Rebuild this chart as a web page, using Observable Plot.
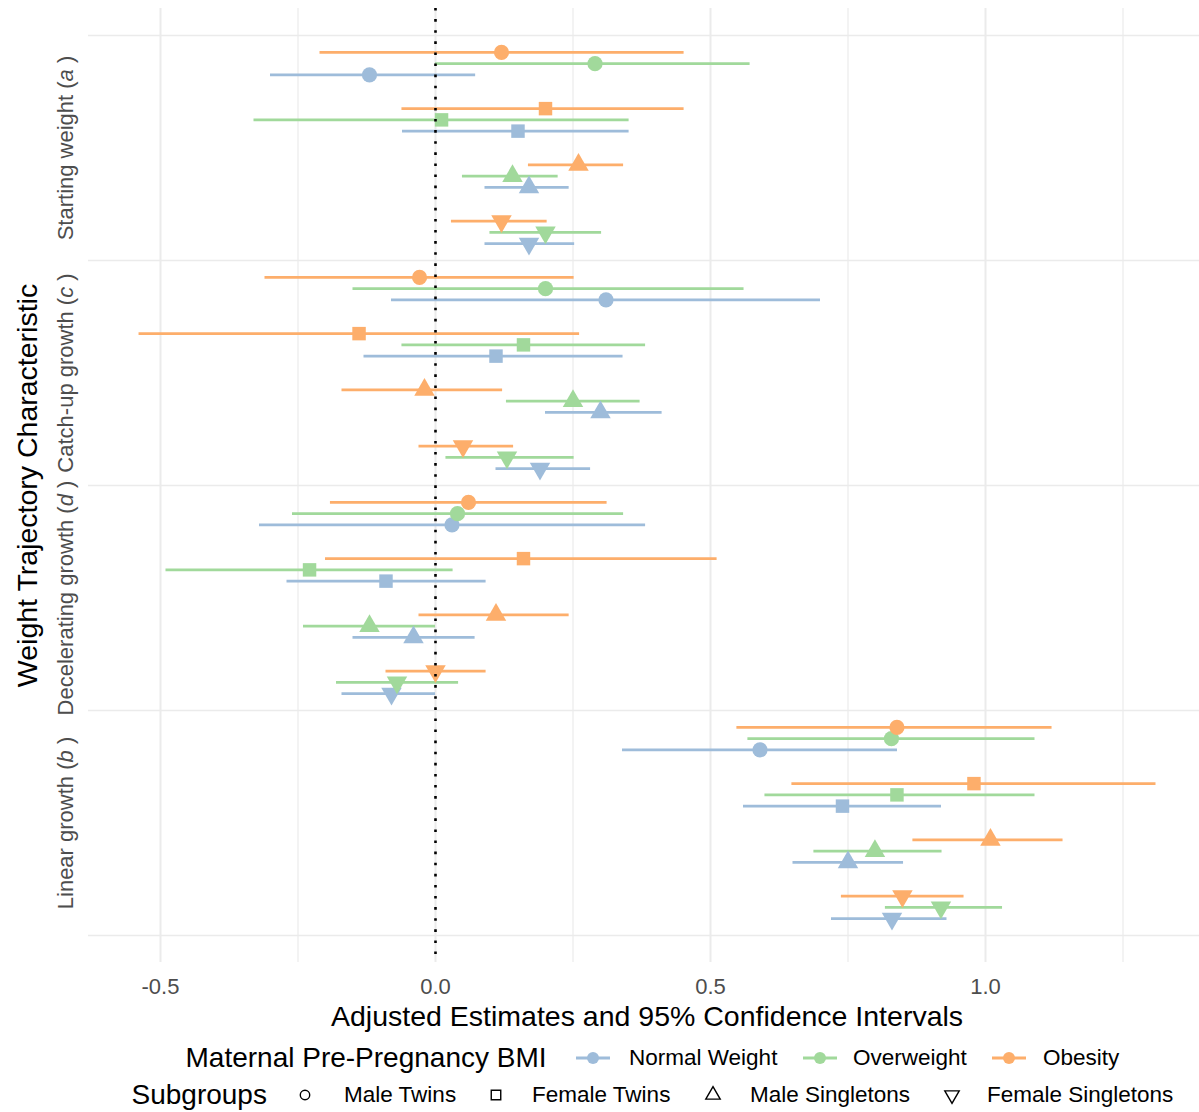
<!DOCTYPE html>
<html>
<head>
<meta charset="utf-8">
<script src="https://cdn.jsdelivr.net/npm/d3@7"></script>
<script src="https://cdn.jsdelivr.net/npm/@observablehq/plot@0.6"></script>
<style>
  html, body { margin: 0; padding: 0; background: #ffffff; }
  body { font-family: "Liberation Sans", Arial, Helvetica, sans-serif; }
  #chart { position: relative; width: 1199px; height: 1112px; overflow: hidden; }
  #chart svg { display: block; }
  .legend-title, .legend-label {
    position: absolute; white-space: nowrap; line-height: 1; color: #000;
    transform: translateY(-50%);
  }
  .legend-title { font-size: 28px; }
  .legend-label { font-size: 22.5px; }
  .legend-key { position: absolute; overflow: visible; }
</style>
</head>
<body>
<div id="chart"></div>
<script>
// Weight trajectory characteristics (rows of the chart, top to bottom) and their parameter letters
const characteristics = ["Starting weight", "Catch-up growth", "Decelerating growth", "Linear growth"];
const characteristicLetters = ["a", "c", "d", "b"];

// Subgroups within each characteristic (top to bottom)
const subgroups = ["Male Twins", "Female Twins", "Male Singletons", "Female Singletons"];

// Maternal pre-pregnancy BMI groups and their colours
const bmiGroups = ["Normal Weight", "Overweight", "Obesity"];
const bmiColors = ["#9ebcda", "#a1d99b", "#fdae6b"];

// Adjusted estimates with 95% CI, ordered characteristic by characteristic,
// each with Male Twins, Female Twins, Male Singletons, Female Singletons
const normalEstimate = [-0.12, 0.15, 0.17, 0.17,   0.31, 0.11, 0.30, 0.19,   0.03, -0.09, -0.04, -0.08,   0.59, 0.74, 0.75, 0.83];
const normalLower    = [-0.30, -0.06, 0.09, 0.09,  -0.08, -0.13, 0.20, 0.11,  -0.32, -0.27, -0.15, -0.17,  0.34, 0.56, 0.65, 0.72];
const normalUpper    = [0.073, 0.352, 0.243, 0.253, 0.70, 0.341, 0.412, 0.282, 0.382, 0.092, 0.072, 0.00, 0.84, 0.92, 0.851, 0.93];

const overweightEstimate = [0.29, 0.011, 0.14, 0.20,   0.20, 0.16, 0.25, 0.13,   0.04, -0.229, -0.12, -0.07,   0.829, 0.839, 0.799, 0.919];
const overweightLower    = [0.00, -0.33, 0.049, 0.099, -0.15, -0.061, 0.129, 0.019, -0.26, -0.49, -0.24, -0.18,  0.568, 0.599, 0.688, 0.818];
const overweightUpper    = [0.572, 0.352, 0.223, 0.302, 0.561, 0.382, 0.372, 0.252, 0.342, 0.032, 0.00, 0.042, 1.09, 1.09, 0.921, 1.031];

const obesityEstimate = [0.12, 0.20, 0.26, 0.12,   -0.029, -0.139, -0.02, 0.05,   0.06, 0.16, 0.11, 0.00,   0.839, 0.979, 1.009, 0.849];
const obesityLower    = [-0.21, -0.061, 0.169, 0.029, -0.31, -0.539, -0.17, -0.03, -0.191, -0.20, -0.03, -0.09, 0.548, 0.648, 0.868, 0.738];
const obesityUpper    = [0.452, 0.452, 0.342, 0.203, 0.252, 0.262, 0.122, 0.142, 0.312, 0.512, 0.243, 0.092, 1.121, 1.31, 1.141, 0.961];

// x axis tick values and labels
const xTicks = [-0.5, 0, 0.5, 1.0];
const xTickLabels = ["-0.5", "0.0", "0.5", "1.0"];
const xMinorTicks = [-0.25, 0.25, 0.75, 1.25];

const xTitle = "Adjusted Estimates and 95% Confidence Intervals";
const yTitle = "Weight Trajectory Characteristic";
const bmiLegendTitle = "Maternal Pre-Pregnancy BMI";
const subgroupLegendTitle = "Subgroups";

const estimates = [normalEstimate, overweightEstimate, obesityEstimate];
const lowers = [normalLower, overweightLower, obesityLower];
const uppers = [normalUpper, overweightUpper, obesityUpper];

// Vertical dodge between BMI groups (fraction of one characteristic band)
const dodgeStep = 0.05;

// Long table: one row per characteristic × subgroup × BMI group
const rows = [];
characteristics.forEach((name, ci) => {
  subgroups.forEach((sg, sj) => {
    bmiGroups.forEach((bmi, bk) => {
      const k = ci * subgroups.length + sj;
      rows.push({
        characteristic: name,
        subgroup: sg,
        bmi,
        est: estimates[bk][k],
        lo: lowers[bk][k],
        hi: uppers[bk][k],
        pos: ci + (sj + 0.5) / subgroups.length + (1 - bk) * dodgeStep
      });
    });
  });
});

// Downward-pointing triangle (mirror of d3.symbolTriangle)
const triangleDown = {
  draw(context, size) {
    const y = -Math.sqrt(size / (Math.sqrt(3) * 3));
    context.moveTo(0, -y * 2);
    context.lineTo(-Math.sqrt(3) * y, y);
    context.lineTo(Math.sqrt(3) * y, y);
    context.closePath();
  }
};
const subgroupSymbols = [d3.symbolCircle, d3.symbolSquare, d3.symbolTriangle, triangleDown];

const plot = Plot.plot({
  width: 1199,
  height: 1040,
  marginTop: 8,
  marginBottom: 78,
  marginLeft: 88,
  marginRight: 0,
  style: { fontFamily: "Liberation Sans, Arial, Helvetica, sans-serif", background: "transparent", overflow: "visible" },
  x: { domain: [-0.6309, 1.3891] },
  y: { domain: [-0.12, characteristics.length + 0.12], reverse: true, axis: null },
  color: { domain: bmiGroups, range: bmiColors },
  marks: [
    // panel grid
    Plot.gridX(xMinorTicks, { stroke: "#ebebeb", strokeOpacity: 1, strokeWidth: 1.2 }),
    Plot.gridX(xTicks, { stroke: "#ebebeb", strokeOpacity: 1, strokeWidth: 2 }),
    Plot.ruleY(d3.range(characteristics.length + 1), { stroke: "#ebebeb", strokeWidth: 1.3 }),

    // x axis labels
    Plot.axisX(xTicks, {
      tickSize: 0, tickPadding: 16, fontSize: 22, fill: "#4d4d4d",
      tickFormat: (d) => xTickLabels[xTicks.indexOf(d)], label: null
    }),

    // characteristic labels along the y axis
    Plot.text(characteristics, {
      frameAnchor: "left",
      y: (d, i) => i + 0.5,
      text: (d, i) => `${d} (${characteristicLetters[i]})`,
      rotate: -90,
      textAnchor: "middle",
      lineAnchor: "middle",
      dx: -23,
      fontSize: 22,
      fill: "#4d4d4d",
      className: "char-label"
    }),

    // axis titles
    Plot.text([yTitle], {
      frameAnchor: "left", rotate: -90, textAnchor: "middle", lineAnchor: "middle",
      dx: -61, fontSize: 28.5, fill: "#000"
    }),
    Plot.text([xTitle], {
      frameAnchor: "bottom", textAnchor: "middle", lineAnchor: "middle",
      dy: 54, dx: 3, fontSize: 28.5, fill: "#000"
    }),

    // confidence intervals
    Plot.ruleY(rows, { y: "pos", x1: "lo", x2: "hi", stroke: "bmi", strokeWidth: 2.9 }),

    // point estimates, one symbol per subgroup
    ...subgroups.map((sg, j) =>
      Plot.dot(rows.filter(d => d.subgroup === sg), {
        x: "est", y: "pos", fill: "bmi", r: 7.6, symbol: subgroupSymbols[j]
      })
    ),

    // reference line at zero
    Plot.ruleX([0], { stroke: "#000", strokeWidth: 2.6, strokeDasharray: "2.6,8.5" })
  ]
});

// italic parameter letters in the characteristic labels
d3.select(plot).selectAll("g.char-label text").each(function (d, i) {
  const t = d3.select(this);
  t.text(null);
  t.append("tspan").text(`${characteristics[i]} (`);
  t.append("tspan").attr("font-style", "italic").text(characteristicLetters[i]);
  t.append("tspan").text(" )");
});

const chart = document.getElementById("chart");
chart.appendChild(plot);

// ---- legends ----
function addText(cls, text, left, centerY) {
  const el = document.createElement("div");
  el.className = cls;
  el.textContent = text;
  el.style.left = left + "px";
  el.style.top = centerY + "px";
  chart.appendChild(el);
  return el;
}
function addKey(width, height, cx, cy) {
  const svg = d3.create("svg")
    .attr("class", "legend-key")
    .attr("width", width).attr("height", height)
    .style("left", (cx - width / 2) + "px")
    .style("top", (cy - height / 2) + "px");
  chart.appendChild(svg.node());
  return svg;
}

// BMI legend row
const bmiRow = { y: 1058, titleLeft: 185.5, keyCenters: [593, 820, 1009], labelLefts: [629, 853, 1043] };
addText("legend-title", bmiLegendTitle, bmiRow.titleLeft, bmiRow.y);
bmiGroups.forEach((g, i) => {
  const key = addKey(38, 20, bmiRow.keyCenters[i], bmiRow.y);
  key.append("line").attr("x1", 2).attr("x2", 36).attr("y1", 10).attr("y2", 10)
    .attr("stroke", bmiColors[i]).attr("stroke-width", 2.8);
  key.append("circle").attr("cx", 19).attr("cy", 10).attr("r", 6).attr("fill", bmiColors[i]);
  addText("legend-label", g, bmiRow.labelLefts[i], bmiRow.y);
});

// Subgroup legend row (open symbols)
const sgRow = { y: 1095, titleLeft: 131.5, keyCenters: [305, 496, 713, 951.5], labelLefts: [344, 532, 750, 987] };
addText("legend-title", subgroupLegendTitle, sgRow.titleLeft, sgRow.y);
subgroups.forEach((g, i) => {
  const key = addKey(24, 24, sgRow.keyCenters[i], sgRow.y);
  key.append("path")
    .attr("transform", "translate(12,12)")
    .attr("d", d3.symbol(subgroupSymbols[i], i === 0 ? 70 : i === 1 ? 90 : 90)())
    .attr("fill", "none").attr("stroke", "#000").attr("stroke-width", 1.4);
  addText("legend-label", g, sgRow.labelLefts[i], sgRow.y);
});
</script>
</body>
</html>
